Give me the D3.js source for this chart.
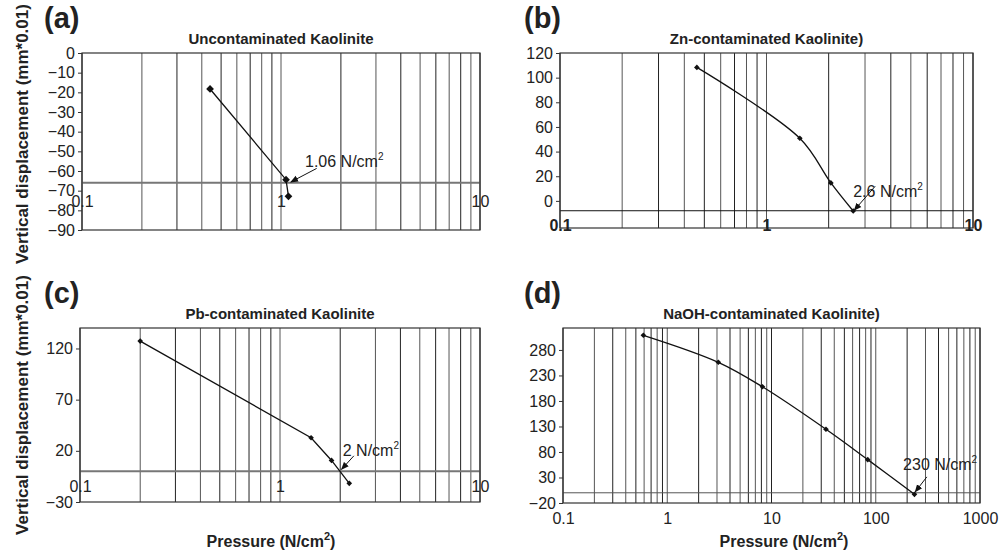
<!DOCTYPE html>
<html>
<head>
<meta charset="utf-8">
<script src="https://cdn.jsdelivr.net/npm/d3@7"></script>
<style>
  body { margin: 0; background: #fff; }
  text { font-family: "Liberation Sans", Arial, sans-serif; }
</style>
</head>
<body>
<div id="chart"></div>
<script>
// data
const titles = ["Uncontaminated Kaolinite", "Zn-contaminated Kaolinite)", "Pb-contaminated Kaolinite", "NaOH-contaminated Kaolinite)"];
const letters = ["(a)", "(b)", "(c)", "(d)"];

const pressA = [0.44, 1.06, 1.09];
const dispA  = [-18.3, -64.4, -72.9];
const pressB = [0.46, 1.45, 2.05, 2.63];
const dispB  = [108.3, 50.8, 14.6, -8.2];
const pressC = [0.2, 1.43, 1.81, 2.22];
const dispC  = [127.2, 32.8, 10.6, -11.8];
const pressD = [0.59, 3.09, 8.19, 33.3, 83.8, 235];
const dispD  = [308.7, 255.8, 207.8, 124.5, 65, -3];

const yTicksA = [0, -10, -20, -30, -40, -50, -60, -70, -80, -90];
const yTicksB = [120, 100, 80, 60, 40, 20, 0];
const yTicksC = [120, 70, 20, -30];
const yTicksD = [280, 230, 180, 130, 80, 30, -20];
const xLabelsABC = [0.1, 1, 10];
const xLabelsD = [0.1, 1, 10, 100, 1000];

// annotation: label, text anchor, arrow tail, arrow head (data units)
const noteA = ["1.06", [1.32, -58.1], [1.51, -58.7], [1.12, -65.6]];
const noteB = ["2.6", [2.63, 3.0], [3.36, 11.9], [2.66, -7.6]];
const noteC = ["2", [2.06, 14.8], [2.34, 15.1], [2.03, 1.8]];
const noteD = ["230", [183, 44.3], [309, 31.2], [239, 1.7]];

const width = 1000, height = 553;

const svg = d3.select("#chart").append("svg")
  .attr("width", width).attr("height", height);

svg.append("defs").append("marker")
  .attr("id", "arrow").attr("viewBox", "0 0 10 10")
  .attr("refX", 9).attr("refY", 5)
  .attr("markerWidth", 8).attr("markerHeight", 8)
  .attr("markerUnits", "userSpaceOnUse")
  .attr("orient", "auto")
  .append("path").attr("d", "M0,1 L10,5 L0,9 Z").attr("fill", "#111");

// layout of the four panels
const panels = [
  {i: 0, xs: pressA, ys: dispA, left: 82, right: 480, top: 53, bottom: 230, xDom: [0.1, 10], yDom: [-90, 0],
   yTicks: yTicksA, xLabels: xLabelsABC, cross: -66, labelDy: 26, boldX: false, curve: d3.curveLinear,
   note: noteA, crossColor: "#777", crossW: 2, mark: 30},
  {i: 1, xs: pressB, ys: dispB, left: 560, right: 973, top: 53, bottom: 228, xDom: [0.1, 10], yDom: [-22, 120],
   yTicks: yTicksB, xLabels: xLabelsABC, cross: -8, labelDy: 22, boldX: true, curve: d3.curveCatmullRom.alpha(0.5),
   note: noteB, crossColor: "#111", crossW: 1, mark: 16},
  {i: 2, xs: pressC, ys: dispC, left: 80, right: 480, top: 328, bottom: 502, xDom: [0.1, 10], yDom: [-30, 140],
   yTicks: yTicksC, xLabels: xLabelsABC, cross: 0, labelDy: 22, boldX: false, curve: d3.curveLinear,
   note: noteC, crossColor: "#777", crossW: 2, mark: 16},
  {i: 3, xs: pressD, ys: dispD, left: 563, right: 980, top: 328, bottom: 503, xDom: [0.1, 1000], yDom: [-20, 323],
   yTicks: yTicksD, xLabels: xLabelsD, cross: 0, labelDy: null, boldX: false, curve: d3.curveCatmullRom.alpha(0.5),
   note: noteD, crossColor: "#555", crossW: 1, mark: 16}
];

panels.forEach(p => {
  const x = d3.scaleLog().domain(p.xDom).range([p.left, p.right]);
  const y = d3.scaleLinear().domain(p.yDom).range([p.bottom, p.top]);
  const g = svg.append("g");

  // vertical log grid
  g.selectAll(".grid").data(x.ticks()).join("line")
    .attr("x1", d => x(d)).attr("x2", d => x(d))
    .attr("y1", p.top).attr("y2", p.bottom)
    .attr("stroke", (d, k) => k % 2 ? "#555" : "#222").attr("stroke-width", 1);

  // axis crossing line
  g.append("line")
    .attr("x1", p.left).attr("x2", p.right)
    .attr("y1", y(p.cross)).attr("y2", y(p.cross))
    .attr("stroke", p.crossColor).attr("stroke-width", p.crossW);

  // plot frame
  g.append("rect")
    .attr("x", p.left).attr("y", p.top)
    .attr("width", p.right - p.left).attr("height", p.bottom - p.top)
    .attr("fill", "none").attr("stroke", "#333").attr("stroke-width", 1.2);

  // y axis
  const ya = g.append("g").attr("transform", `translate(${p.left},0)`)
    .call(d3.axisLeft(y).tickValues(p.yTicks).tickSize(4).tickPadding(3));
  ya.select(".domain").remove();
  ya.selectAll("line").attr("stroke", "#333");
  ya.selectAll("text").attr("font-size", 16).attr("fill", "#222")
    .style("font-family", "'Liberation Sans', Arial, sans-serif");

  // x labels
  const xa = g.append("g")
    .attr("transform", `translate(0,${p.labelDy == null ? p.bottom : y(p.cross)})`)
    .call(d3.axisBottom(x).tickValues(p.xLabels).tickSize(0)
      .tickPadding(p.labelDy == null ? 10 : p.labelDy - 13)
      .tickFormat(d => String(d)));
  xa.select(".domain").remove();
  xa.selectAll("text").attr("font-size", 16).attr("fill", "#222")
    .attr("font-weight", p.boldX ? "bold" : "normal")
    .style("font-family", "'Liberation Sans', Arial, sans-serif");

  // data line
  const pts = p.xs.map((v, k) => [v, p.ys[k]]);
  g.append("path").datum(pts)
    .attr("d", d3.line().x(d => x(d[0])).y(d => y(d[1])).curve(p.curve))
    .attr("fill", "none").attr("stroke", "#111").attr("stroke-width", 1.3);

  g.selectAll(".pt").data(pts).join("path")
    .attr("d", d3.symbol().type(d3.symbolSquare).size(p.mark))
    .attr("transform", d => `translate(${x(d[0])},${y(d[1])}) rotate(45)`)
    .attr("fill", "#111");

  // annotation
  const [lab, tp, a0, a1] = p.note;
  const t = g.append("text").attr("x", x(tp[0])).attr("y", y(tp[1]))
    .attr("font-size", 16).attr("fill", "#222");
  t.append("tspan").text(lab + " N/cm");
  t.append("tspan").text("2").attr("font-size", 10).attr("dy", -7);
  g.append("line")
    .attr("x1", x(a0[0])).attr("y1", y(a0[1]))
    .attr("x2", x(a1[0])).attr("y2", y(a1[1]))
    .attr("stroke", "#111").attr("stroke-width", 1)
    .attr("marker-end", "url(#arrow)");

  // title and letter
  g.append("text").attr("x", (p.left + p.right) / 2).attr("y", p.top - 9)
    .attr("text-anchor", "middle").attr("font-size", 15).attr("font-weight", "bold")
    .attr("fill", "#222").text(titles[p.i]);
  g.append("text").attr("x", p.i % 2 ? 524 : 44).attr("y", p.top - 25)
    .attr("font-size", 29).attr("font-weight", "bold").attr("fill", "#222")
    .text(letters[p.i]);
});

// shared axis titles
[134, 405].forEach(cy => {
  svg.append("text")
    .attr("transform", `translate(28,${cy}) rotate(-90)`)
    .attr("text-anchor", "middle").attr("font-size", 17).attr("font-weight", "bold")
    .attr("fill", "#222").text("Vertical displacement (mm*0.01)");
});
[271, 784].forEach(cx => {
  const t = svg.append("text").attr("x", cx).attr("y", 547)
    .attr("text-anchor", "middle").attr("font-size", 16).attr("font-weight", "bold")
    .attr("fill", "#222");
  t.append("tspan").text("Pressure (N/cm");
  t.append("tspan").text("2").attr("font-size", 11).attr("dy", -7);
  t.append("tspan").text(")").attr("dy", 7);
});
</script>
</body>
</html>
